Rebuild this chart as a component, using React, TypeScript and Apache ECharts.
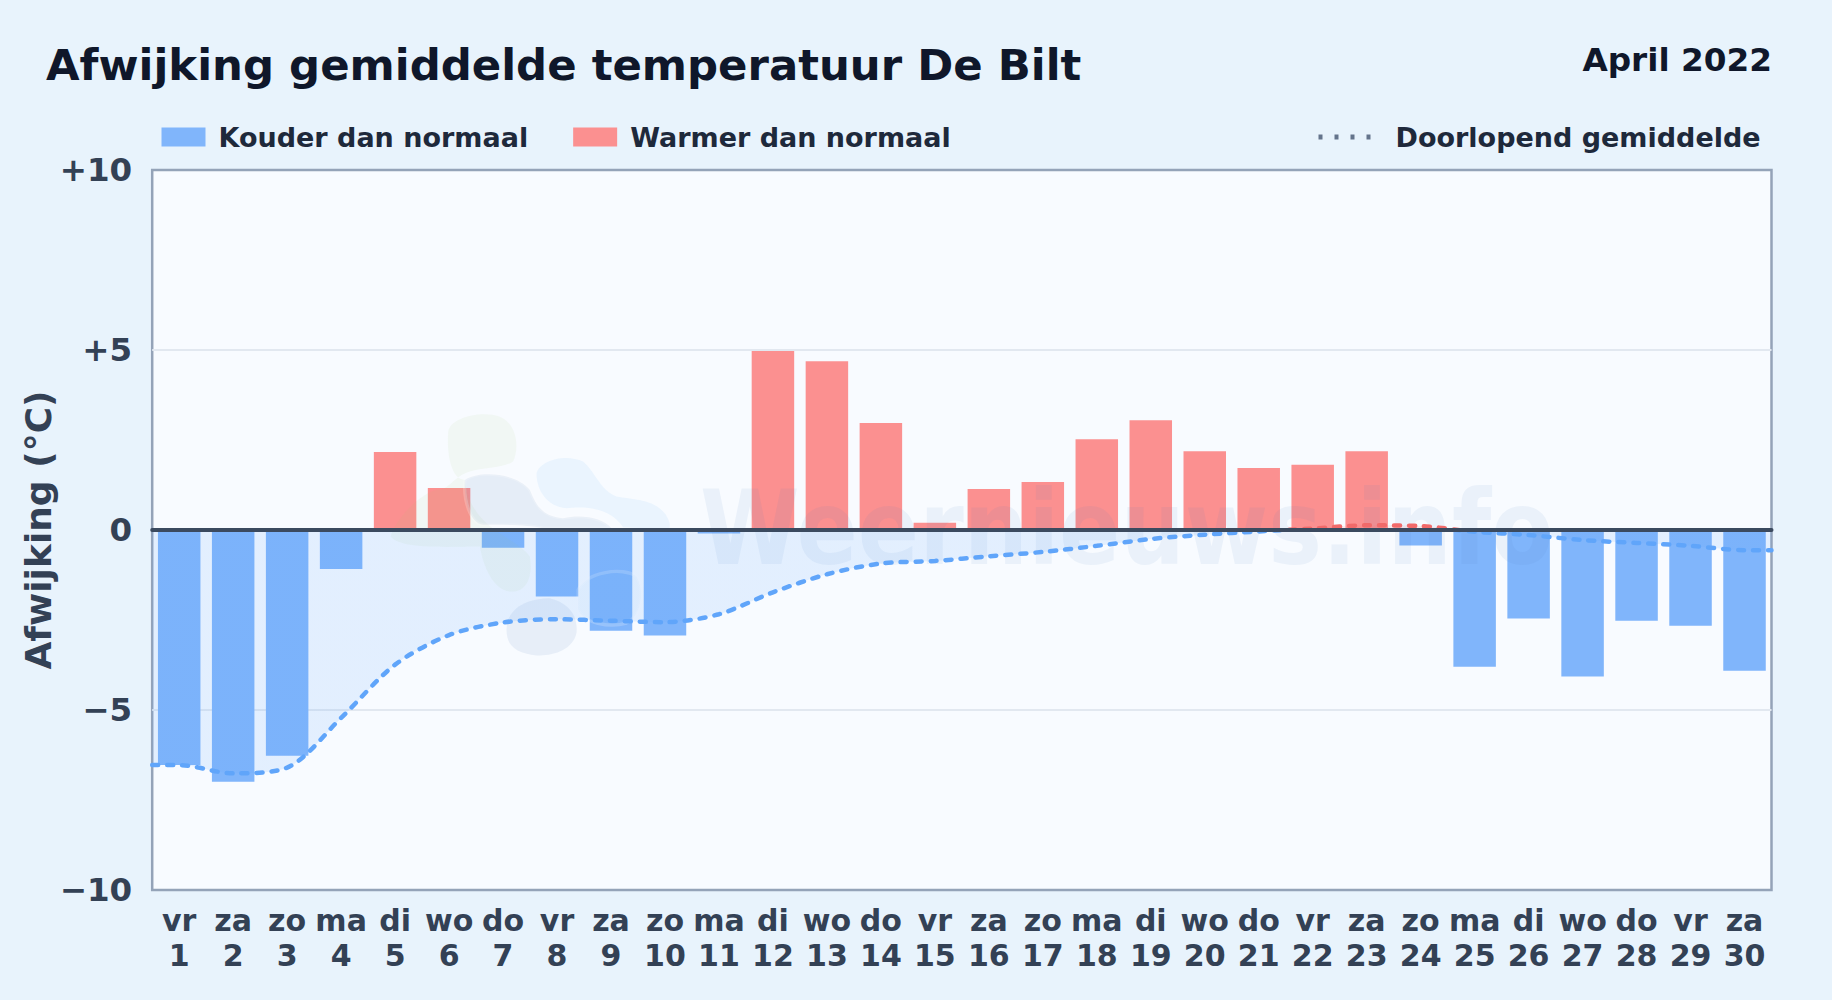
import React, { useEffect, useRef } from "react";
import * as echarts from "echarts";

const weekdays = ["vr","za","zo","ma","di","wo","do","vr","za","zo","ma","di","wo","do","vr","za","zo","ma","di","wo","do","vr","za","zo","ma","di","wo","do","vr","za"];
const dayNumbers = [1,2,3,4,5,6,7,8,9,10,11,12,13,14,15,16,17,18,19,20,21,22,23,24,25,26,27,28,29,30];
const deviation = [-6.53,-6.99,-6.27,-1.08,2.17,1.17,-0.49,-1.85,-2.8,-2.93,-0.1,4.97,4.69,2.97,0.2,1.14,1.33,2.52,3.05,2.19,1.72,1.81,2.19,-0.43,-3.8,-2.46,-4.07,-2.52,-2.66,-3.91];
const runningMean = [-6.53,-6.76,-6.6,-5.22,-3.74,-2.92,-2.57,-2.48,-2.52,-2.56,-2.34,-1.73,-1.23,-0.93,-0.86,-0.73,-0.61,-0.44,-0.25,-0.13,-0.04,0.04,0.13,0.11,-0.05,-0.14,-0.28,-0.36,-0.44,-0.56];
const yTickLabels: Record<string, string> = { "10": "+10", "5": "+5", "0": "0", "-5": "\u22125", "-10": "\u221210" };

const TITLE = "Afwijking gemiddelde temperatuur De Bilt";
const PERIOD = "April 2022";
const COLD = "Kouder dan normaal";
const WARM = "Warmer dan normaal";
const MEAN = "Doorlopend gemiddelde";

const FONT = "'DejaVu Sans', sans-serif";

const BLOBS: [string, string, string, number][] = [
  ["wmGreen", "M235,125 C240,85 330,60 390,80 C440,100 450,170 430,215 C400,235 340,232 300,245 C250,262 250,285 215,298 C150,300 70,400 62,440 C90,480 250,470 330,470 C340,530 370,600 420,605 C470,610 490,560 480,500 C440,440 300,420 285,270 C240,270 230,180 235,125 Z", "rgba(170,205,110,0.08)", 0],
  ["wmSlate", "M285,270 C330,240 440,250 480,300 C500,350 520,380 580,385 C640,372 700,385 725,415 L520,415 C470,405 420,405 340,405 C300,400 280,330 285,270 Z", "rgba(100,140,190,0.12)", 10],
  ["wmSky", "M500,250 C510,210 590,190 640,215 C680,250 690,300 740,320 C800,330 880,330 900,400 L900,418 L760,412 C720,350 640,350 590,355 C530,350 500,300 500,250 Z", "rgba(96,175,240,0.09)", 0],
  ["wmSlateLow", "M410,720 C410,650 480,625 540,625 C600,640 625,680 620,730 C610,780 550,800 500,797 C440,790 410,770 410,720 Z", "rgba(100,140,190,0.11)", 0],
  ["wmSkyLow", "M625,600 C650,545 760,530 800,560 C825,600 815,680 770,700 C720,715 640,700 625,660 Z", "rgba(96,175,240,0.05)", 10],
];
BLOBS.forEach(([name, d]) => {
  echarts.graphic.registerShape(name, echarts.graphic.extendPath(d, {}));
});

export default function App() {
  const ref = useRef<HTMLDivElement>(null);
  useEffect(() => {
    document.body.style.margin = "0";
    document.body.style.overflow = "hidden";
    const chart = echarts.init(ref.current!, null, { renderer: "svg" });
    const categories = weekdays.map((w, i) => `${w}\n${dayNumbers[i]}`);
    const meanPoints = [
      [0, runningMean[0]],
      ...runningMean.map((v, i) => [i + 0.5, v]),
      [runningMean.length, runningMean[runningMean.length - 1]],
    ];
    const signGradient = (warm: string, cold: string) =>
      new echarts.graphic.LinearGradient(0, 170, 0, 890, [
        { offset: 0, color: warm },
        { offset: 0.5, color: warm },
        { offset: 0.5, color: cold },
        { offset: 1, color: cold },
      ], true);
    chart.setOption({
      animation: false,
      backgroundColor: "#e8f3fc",
      title: [
        { text: TITLE, left: 46, top: 43, padding: 0, textStyle: { fontFamily: FONT, fontSize: 43.4, fontWeight: "bold", color: "#0f172a" } },
        { text: PERIOD, right: 60, top: 43, padding: 0, textStyle: { fontFamily: FONT, fontSize: 32.7, fontWeight: "bold", color: "#0f172a" } },
      ],
      legend: [
        {
          data: [{ name: COLD, icon: "rect" }, { name: WARM, icon: "rect" }],
          left: 161.5, top: 123.5, padding: 0, itemWidth: 44, itemHeight: 19, itemGap: 45,
          textStyle: { fontFamily: FONT, fontSize: 27, fontWeight: "bold", color: "#1e293b", padding: [0, 0, 0, 8] },
        },
        {
          data: [{ name: MEAN }],
          left: 1316, top: 123.5, padding: 0, itemWidth: 54, itemHeight: 19,
          lineStyle: { color: "#64748b", width: 5, type: [4, 12], cap: "butt" },
          itemStyle: { color: "transparent", opacity: 0 },
          textStyle: { fontFamily: FONT, fontSize: 27, fontWeight: "bold", color: "#1e293b", padding: [0, 0, 0, 18] },
        },
      ],
      grid: {
        show: true, left: 152.2, top: 170, width: 1619.3, height: 720,
        outerBoundsMode: "none", containLabel: false,
        backgroundColor: "#f8fbff", borderColor: "#94a3b8", borderWidth: 2.5,
      },
      xAxis: [
        {
          type: "category", data: categories, position: "bottom",
          axisLine: { show: false, onZero: false }, axisTick: { show: false }, splitLine: { show: false },
          axisLabel: { interval: 0, fontFamily: FONT, fontSize: 30, fontWeight: "bold", color: "#334155", lineHeight: 35, margin: 13 },
        },
        {
          type: "value", min: 0, max: 30, z: 10, position: "bottom",
          axisLine: { show: true, onZero: true, lineStyle: { color: "#3b4a5f", width: 4 } },
          axisTick: { show: false }, axisLabel: { show: false }, splitLine: { show: false },
        },
      ],
      yAxis: {
        type: "value", min: -10, max: 10, interval: 5,
        name: "Afwijking (\u00b0C)", nameLocation: "middle", nameGap: 96, nameRotate: 90, nameMoveOverlap: false,
        nameTextStyle: { fontFamily: FONT, fontSize: 36, fontWeight: "bold", color: "#334155" },
        axisLine: { show: false }, axisTick: { show: false },
        splitLine: { show: true, showMinLine: false, showMaxLine: false, lineStyle: { color: "#e2e8f0", width: 2 } },
        axisLabel: { margin: 20, fontFamily: FONT, fontSize: 32.5, fontWeight: "bold", color: "#334155", formatter: (v: number) => yTickLabels[String(v)] },
      },
      series: [
        {
          name: COLD, type: "bar", stack: "dev", barWidth: 42.5, z: 2, xAxisIndex: 0,
          itemStyle: { color: "#80b5fb" },
          data: deviation.map((v) => (v < 0 ? v : null)),
        },
        {
          name: WARM, type: "bar", stack: "dev", barWidth: 42.5, z: 2, xAxisIndex: 0,
          itemStyle: { color: "#fb9090" },
          data: deviation.map((v) => (v >= 0 ? v : null)),
        },
        {
          name: MEAN, type: "line", xAxisIndex: 1, z: 6, symbol: "none", showSymbol: false,
          smooth: 0.3,
          itemStyle: { color: "#60a5fa" },
          lineStyle: { width: 4.5, type: [6, 9], cap: "round", color: signGradient("#f16a6a", "#60a5fa") },
          areaStyle: { color: signGradient("rgba(241,106,106,0.17)", "rgba(96,165,250,0.2)") },
          data: meanPoints,
        },
      ],
      graphic: [
        ...BLOBS.map(([name, , fill, halo]) => ({
          type: name, x: 370, y: 390, scaleX: 1 / 3, scaleY: 1 / 3, z: 4, silent: true,
          style: { fill, stroke: halo ? "rgba(255,255,255,0.2)" : null, lineWidth: halo },
        })),
        {
          type: "text", x: 700, y: 477, scaleX: 0.878, scaleY: 1, z: 4, silent: true,
          style: { text: "Weernieuws.info", fontFamily: FONT, fontSize: 103, fontWeight: "bold", verticalAlign: "top", fill: "rgba(71,125,190,0.08)" },
        },
      ],
    });
    return () => chart.dispose();
  }, []);
  return <div ref={ref} style={{ width: 1832, height: 1000 }} />;
}
